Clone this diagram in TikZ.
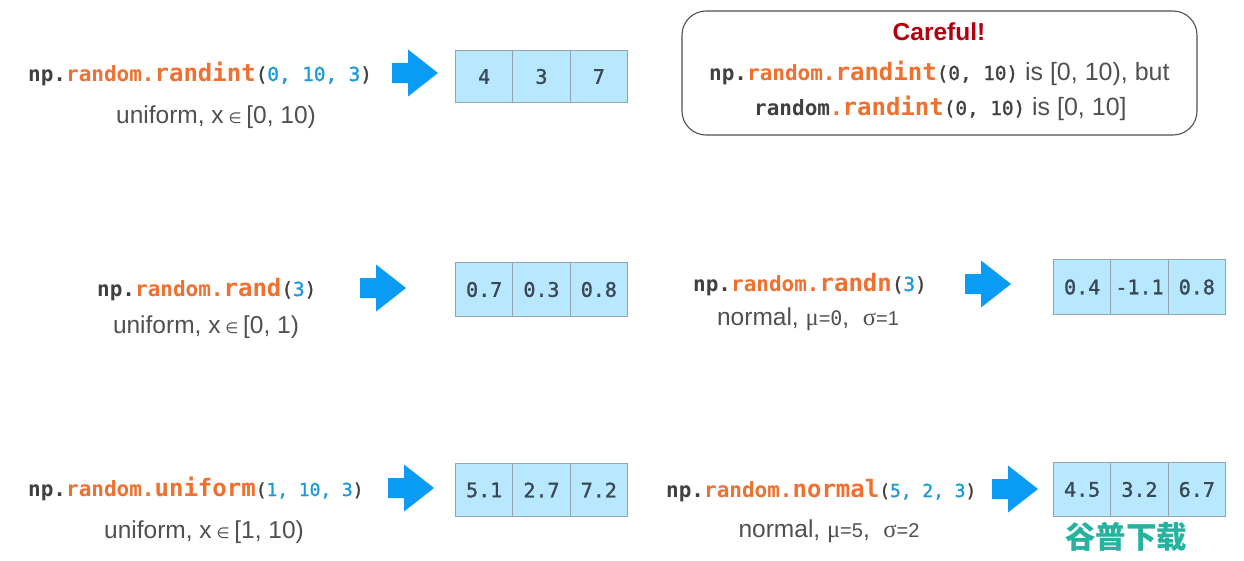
\documentclass[tikz,border=0pt]{standalone}
\usepackage{fontspec}
\setmainfont{Liberation Sans}
\newfontfamily\codefont{DejaVu Sans Mono}
\newfontfamily\codemid{DejaVu Sans Mono}[FakeBold=1.4]
\newfontfamily\symfont{DejaVu Sans}
\newfontfamily\greekfont{Liberation Serif}
\newfontfamily\wmfont{Noto Sans CJK SC}
\definecolor{inkdark}{HTML}{404040}
\definecolor{inkorange}{HTML}{F0702F}
\definecolor{inkblue}{HTML}{1A9AD6}
\definecolor{cellfill}{HTML}{B8E8FF}
\definecolor{cellline}{HTML}{93A3AE}
\definecolor{cellink}{HTML}{3A4854}
\definecolor{arrowblue}{HTML}{0A9BF5}
\definecolor{labelgray}{HTML}{505050}
\definecolor{carefulred}{HTML}{B00010}
\definecolor{wmteal}{HTML}{25B29E}
\newcommand{\fsz}[1]{\fontsize{#1}{#1}\selectfont}
\newcommand{\argsz}{19.3}
\newcommand{\cpre}[1]{{\codefont\bfseries\fsz{21}\color{inkdark}#1}}
\newcommand{\cmod}[1]{{\codefont\bfseries\fsz{21}\color{inkorange}#1}}
\newcommand{\cfun}[1]{{\codefont\bfseries\fsz{24}\color{inkorange}#1}}
\newcommand{\cpar}[1]{{\codemid\fsz{\argsz}\color{inkdark}#1}}
\newcommand{\cnum}[1]{{\codemid\fsz{\argsz}\color{inkblue}#1}}
\newcommand{\inset}{{\symfont\fsz{15}\ ∈\ }}
\newcommand{\mug}{{\greekfont μ}}
\newcommand{\sig}{{\greekfont σ}}
\newcommand{\bigarrow}[2]{%
  \fill[arrowblue] (#1,#2) ++(0,-10) -- ++(16,0) -- ++(0,-13.5) -- ++(30,23.5)
    -- ++(-30,23.5) -- ++(0,-13.5) -- ++(-16,0) -- cycle;}
\newcommand{\cells}[8]{%
  \node[cellbox,minimum width=#4,minimum height=#5,anchor=north west] (#1a) at (#2+0.5,#3+0.5) {#6};
  \node[cellbox,minimum width=#4,minimum height=#5,anchor=west] (#1b) at (#1a.east) {#7};
  \node[cellbox,minimum width=#4,minimum height=#5,anchor=west] (#1c) at (#1b.east) {#8};}
\tikzset{
  cellbox/.style={draw=cellline,fill=cellfill,line width=1pt,inner sep=0pt,outer sep=0pt,
    text=cellink,font=\codemid\fsz{20}},
  codetext/.style={anchor=base west,inner sep=0pt},
  labeltext/.style={anchor=base,inner sep=0pt,text=labelgray,font=\fsz{24.5}},
}
\begin{document}
\begin{tikzpicture}[x=1pt,y=-1pt]
\useasboundingbox[fill=white] (0,0) rectangle (1244,560);

% row 1
\node[codetext] (c1) at (28,81) {\cpre{np.}\cmod{random.}\cfun{randint}\cpar{(}\cnum{0, 10, 3}\cpar{)}};
\node[labeltext] (l1) at (216,123) {uniform, x\inset[0, 10)};
\bigarrow{392}{73}
\cells{a}{455}{50}{57.33pt}{52pt}{4}{3}{7}

% careful box
\node[draw=labelgray,line width=1.1pt,rounded corners=24pt,outer sep=0pt,minimum width=515pt,minimum height=124pt,anchor=north west] (box) at (682,11) {};
\node[anchor=base,inner sep=0pt,text=carefulred,font=\bfseries\fsz{24.5}] (t0) at (939,40) {Careful!};
\node[codetext,text=labelgray,font=\fsz{25}] (t1) at (709,80) {\cpre{np.}\cmod{random.}\cfun{randint}\cpar{(0, 10)} is [0, 10), but};
\node[codetext,text=labelgray,font=\fsz{25}] (t2) at (754,115) {\cpre{random}\cmod{.}\cfun{randint}\cpar{(0, 10)} is [0, 10]};

% row 2
\node[codetext] (c2) at (97,296) {\cpre{np.}\cmod{random.}\cfun{rand}\cpar{(}\cnum{3}\cpar{)}};
\node[labeltext] (l2) at (206,333) {uniform, x\inset[0, 1)};
\bigarrow{360}{288}
\cells{b}{455}{262}{57.33pt}{54pt}{0.7}{0.3}{0.8}

\node[codetext] (c3) at (693,291) {\cpre{np.}\cmod{random.}\cfun{randn}\cpar{(}\cnum{3}\cpar{)}};
\node[labeltext] (l3) at (808,325) {normal, \mug{\fsz{20}=\codefont 0},\ \ \sig{\fsz{20}=1}};
\bigarrow{965}{284}
\cells{c}{1053}{259}{57.33pt}{55pt}{0.4}{-1.1}{0.8}

% row 3
\renewcommand{\argsz}{17.9}
\node[codetext] (c4) at (28,496) {\cpre{np.}\cmod{random.}\cfun{uniform}\cpar{(}\cnum{1, 10, 3}\cpar{)}};
\node[labeltext] (l4) at (204,538) {uniform, x\inset[1, 10)};
\bigarrow{388}{488}
\cells{d}{455}{463}{57.33pt}{53pt}{5.1}{2.7}{7.2}

\node[codetext] (c5) at (666,497) {\cpre{np.}\cmod{random.}\cfun{normal}\cpar{(}\cnum{5, 2, 3}\cpar{)}};
\node[labeltext] (l5) at (829,537) {normal, \mug{\fsz{20}=5},\ \ \sig{\fsz{20}=2}};
\bigarrow{992}{489}
\cells{e}{1053}{462}{57.33pt}{54pt}{4.5}{3.2}{6.7}

% watermark
\node[anchor=base,inner sep=0pt,text=wmteal,font=\wmfont\bfseries\fsz{30.5}] (wm) at (1126,548) {谷普下载};
\end{tikzpicture}
\end{document}
